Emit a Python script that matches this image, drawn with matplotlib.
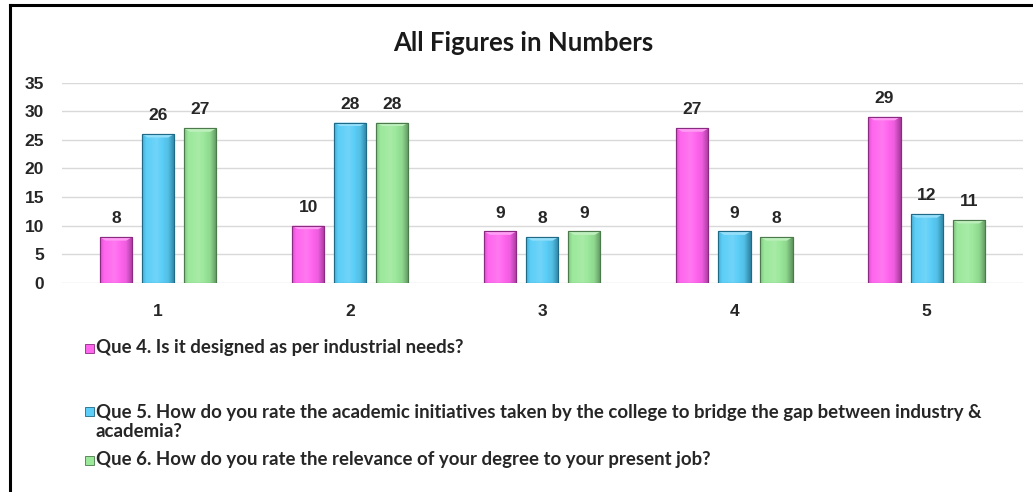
import matplotlib
matplotlib.use("Agg")
import matplotlib.pyplot as plt
import numpy as np
from matplotlib.patches import Rectangle, Polygon
from matplotlib.lines import Line2D
import matplotlib.colors as mcolors

categories = ["1", "2", "3", "4", "5"]
que4 = [8, 10, 9, 27, 29]
que5 = [26, 28, 8, 9, 12]
que6 = [27, 28, 9, 8, 11]
series_labels = [
    "Que 4. Is it designed as per industrial needs?",
    "Que 5. How do you rate the academic initiatives taken by the college to bridge the gap between industry &\nacademia?",
    "Que 6. How do you rate the relevance of your degree to your present job?",
]
title = "All Figures in Numbers"
yticks = [0, 5, 10, 15, 20, 25, 30, 35]

colors = ["#FF66EE", "#5CCEF7", "#9BE89B"]
dark = ["#8A2A80", "#1F6A86", "#4C7A4C"]

fig = plt.figure(figsize=(10.33, 4.92), dpi=100)
fig.patch.set_facecolor("white")
ax = fig.add_axes([0.060, 0.4248, 0.930, 0.4075])

x = np.arange(len(categories))
bw = 0.167
step = 0.219
data = [que4, que5, que6]

for i, vals in enumerate(data):
    bars = ax.bar(x + (i - 1) * step, vals, width=bw, color=colors[i],
                  edgecolor=dark[i], linewidth=0.8, zorder=3)
    base = np.array(mcolors.to_rgb(colors[i]))
    dk = np.array(mcolors.to_rgb(dark[i]))
    for b, v in zip(bars, vals):
        x0, w, h = b.get_x(), b.get_width(), b.get_height()
        t = np.linspace(0, 1, 64)
        prof = np.interp(t, [0, 0.12, 0.45, 0.8, 1.0], [0.35, 0.0, -0.12, 0.15, 0.75])
        img = np.zeros((2, 64, 3))
        for k, p in enumerate(prof):
            if p < 0:
                c = base + (1 - base) * (-p)
            else:
                c = base * (1 - p) + dk * p
            img[:, k, :] = np.clip(c, 0, 1)
        im = ax.imshow(img, extent=[x0, x0 + w, 0, h], aspect="auto",
                       zorder=3.5, interpolation="bilinear")
        im.set_clip_path(b)
        capd = 0.6
        capw = w * 0.18
        light = base + (1 - base) * 0.35
        ax.add_patch(Polygon([[x0, h], [x0 + w, h], [x0 + w - capw, h - capd],
                              [x0 + capw, h - capd]], closed=True,
                             facecolor=light, edgecolor="none", zorder=3.7))
        ax.add_patch(Rectangle((x0, 0), w, h, facecolor="none",
                               edgecolor=dark[i], linewidth=0.8, zorder=3.8))
        ax.text(x0 + w / 2, h + 1.9, str(v), ha="center", va="bottom",
                fontsize=12.5, fontweight="bold", color="#262626",
                family="Liberation Sans", zorder=5)

ax.set_xlim(-0.5, len(categories) - 0.5)
ax.set_ylim(0, 35)
ax.set_yticks(yticks)
ax.set_xticks(x)
ax.set_xticklabels(categories)
ax.grid(axis="y", color="#D9D9D9", linewidth=1.0, zorder=0)
ax.set_axisbelow(True)
for s in ax.spines.values():
    s.set_visible(False)
ax.tick_params(axis="both", length=0, labelsize=12.5, colors="#262626")
ax.tick_params(axis="x", pad=15)
ax.tick_params(axis="y", pad=13)
for lab in ax.get_xticklabels() + ax.get_yticklabels():
    lab.set_fontweight("bold")
    lab.set_family("Liberation Sans")

fig.text(0.507, 0.912, title, ha="center", va="center", fontsize=18.5,
         fontweight="bold", family="Lato", color="#1a1a1a")

# legend
leg_y = [348, 422, 460]
marker_y = [348, 411, 460]
for i, lab in enumerate(series_labels):
    fig.patches.append(Rectangle((85 / 1033, 1 - (marker_y[i] + 4.5) / 492), 8.5 / 1033, 9 / 492,
                                 transform=fig.transFigure, facecolor=colors[i],
                                 edgecolor=dark[i], linewidth=0.6))
    fig.text(96 / 1033, 1 - leg_y[i] / 492, lab, ha="left", va="center",
             fontsize=13.4, fontweight="bold", family="Lato", color="#262626",
             linespacing=1.2)

# border lines
fig.lines.append(Line2D([10 / 1033, 10 / 1033], [0, 1 - 5 / 492], transform=fig.transFigure,
                        color="black", linewidth=2.2))
fig.lines.append(Line2D([10 / 1033, 1], [1 - 5 / 492, 1 - 5 / 492], transform=fig.transFigure,
                        color="black", linewidth=2.2))

fig.savefig("out.png", dpi=100)
